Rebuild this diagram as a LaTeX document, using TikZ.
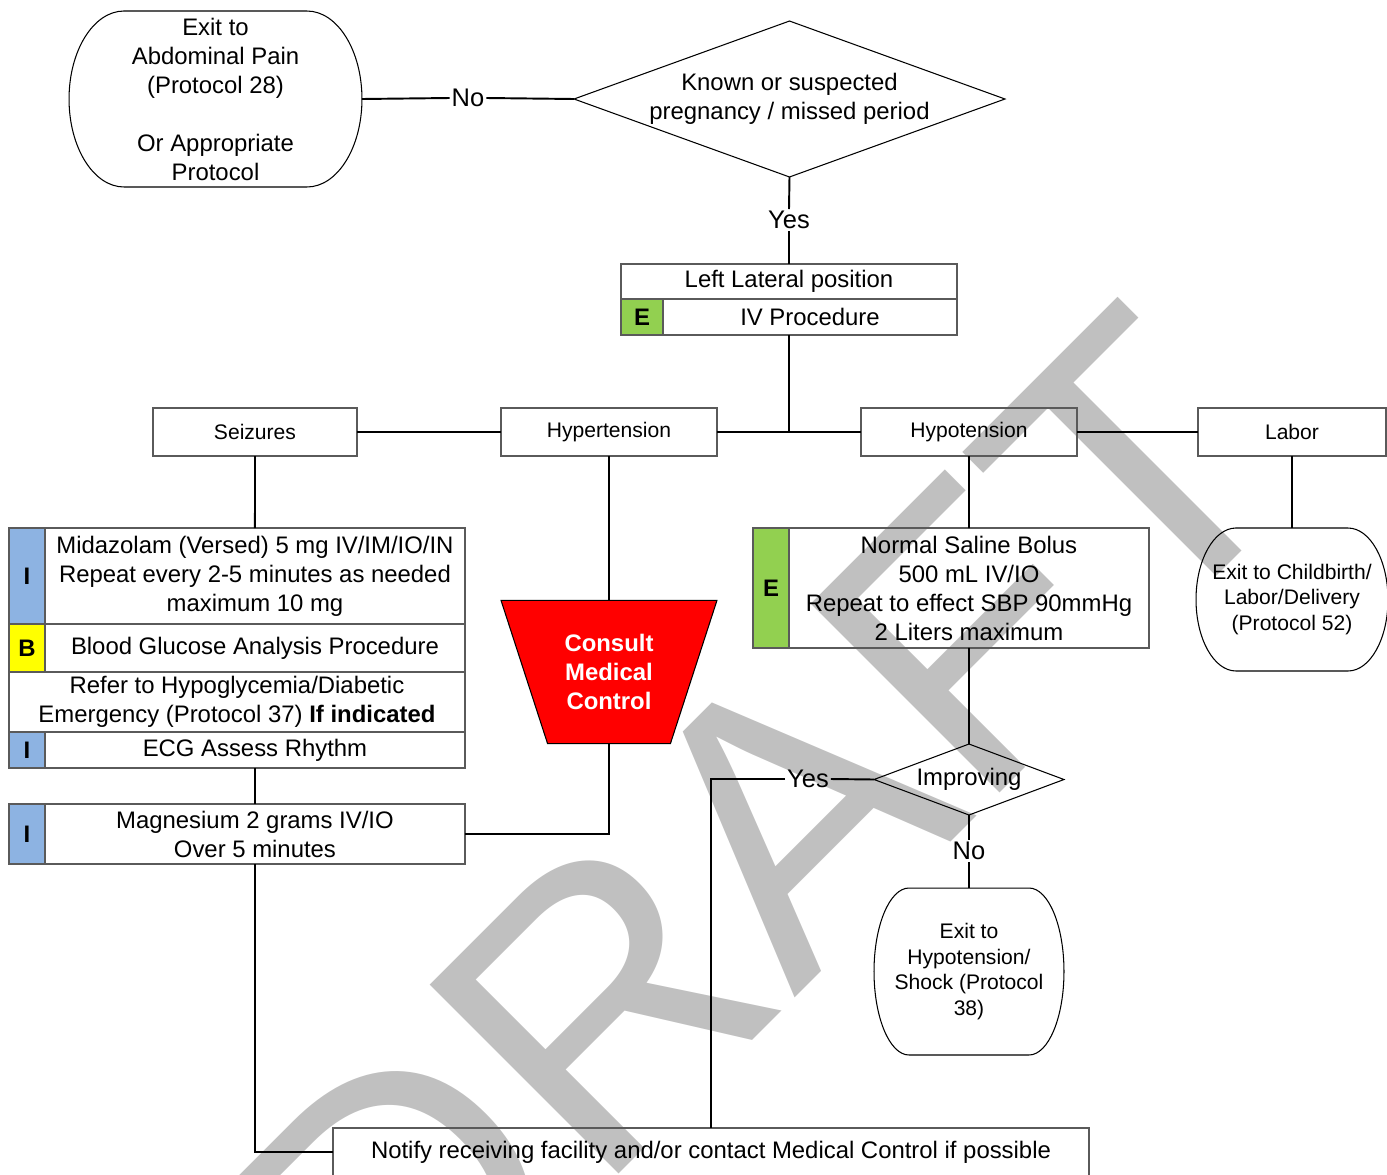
\documentclass[tikz,border=0pt]{standalone}
\usepackage{fontspec}
\setmainfont{Liberation Sans}
\usetikzlibrary{positioning, shapes.geometric}

\definecolor{cellblue}{HTML}{8DB3E2}
\definecolor{cellgreen}{HTML}{92D050}
\definecolor{cellyellow}{HTML}{FFFF00}
\definecolor{draftgray}{HTML}{C0C0C0}
\definecolor{boxline}{HTML}{5A5A5A}

\newcommand{\bigtext}{\fontsize{13.6}{16.5}\selectfont}
\newcommand{\smalltext}{\fontsize{12}{14.5}\selectfont}
\newcommand{\answertext}{\fontsize{14.5}{17}\selectfont}

% rounded exit shapes
\newcommand{\termoutline}[3]{%
  \draw[termline] ([xshift=#2]#1.north west) -- ([xshift=-#2]#1.north east)
    arc[start angle=90, end angle=-90, x radius=#2, y radius=#3]
    -- ([xshift=#2]#1.south west)
    arc[start angle=270, end angle=90, x radius=#2, y radius=#3] -- cycle;}

\begin{document}
\begin{tikzpicture}[
    x=0.02cm, y=-0.02cm,
    box/.style={draw=boxline, line width=0.8pt, inner sep=0pt, outer sep=0pt, align=center, font=\bigtext},
    smallbox/.style={box, font=\smalltext},
    cell/.style={box, fill=#1, font=\bigtext\bfseries, minimum width=0.72cm},
    plain/.style={inner sep=0pt, outer sep=0pt, align=center},
    termline/.style={draw=black, line width=0.6pt},
    decline/.style={draw=black, line width=0.6pt},
    answer/.style={inner sep=1pt, font=\answertext},
    link/.style={draw=black, line width=1.1pt}
]

\useasboundingbox (0,0) rectangle (1387,1174);

% watermark
\node[text=draftgray, rotate=45, font=\fontsize{221}{221}\selectfont] (draft) at (761,843) {DRAFT};

% pregnancy question
\node[plain, font=\bigtext, minimum width=5.86cm, minimum height=3.52cm] (abd) at (215.5,99)
    {Exit to\\Abdominal Pain\\(Protocol 28)\\[16.5pt]Or Appropriate\\Protocol};
\termoutline{abd}{1.1cm}{1.76cm}

\node[plain, font=\bigtext, minimum width=8.62cm, minimum height=3.12cm] (known) at (789.5,99)
    {Known or suspected\\pregnancy / missed period};
\draw[decline] (known.north) -- (known.east) -- (known.south) -- (known.west) -- cycle;

\node[answer] (no1) at (468,98) {No};
\node[answer] (yes1) at (789,220) {Yes};

\node[box, minimum width=6.72cm, minimum height=0.7cm] (lateral) at (789,281.5) {Left Lateral position};
\node[cell=cellgreen, minimum width=0.84cm, minimum height=0.72cm, below right=0pt and 0pt of lateral.south west] (ecell1) {E};
\node[box, minimum width=5.88cm, minimum height=0.72cm, right=0pt of ecell1] (ivproc) {IV Procedure};

% branches
\coordinate (junc) at (789,432);
\node[smallbox, minimum width=4.08cm, minimum height=0.96cm] (seiz) at (255,432) {Seizures};
\node[smallbox, minimum width=4.32cm, minimum height=0.96cm] (hyper) at (609,432) {Hypertension};
\node[smallbox, minimum width=4.32cm, minimum height=0.96cm] (hypo) at (969,432) {Hypotension};
\node[smallbox, minimum width=3.76cm, minimum height=0.96cm] (labor) at (1292,432) {Labor};

% seizures
\node[cell=cellblue, minimum height=1.92cm] (icell1) at (27,576) {I};
\node[box, minimum width=8.4cm, minimum height=1.92cm, right=0pt of icell1] (mida)
    {Midazolam (Versed) 5 mg IV/IM/IO/IN\\Repeat every 2-5 minutes as needed\\maximum 10 mg};
\node[cell=cellyellow, minimum height=0.96cm, below=0pt of icell1] (bcell) {B};
\node[box, minimum width=8.4cm, minimum height=0.96cm, right=0pt of bcell] (gluc) {Blood Glucose Analysis Procedure};
\node[box, minimum width=9.12cm, minimum height=1.2cm, below right=0pt and 0pt of bcell.south west] (refer)
    {Refer to Hypoglycemia/Diabetic\\Emergency (Protocol 37) \textbf{If indicated}};
\node[cell=cellblue, minimum height=0.72cm, below right=0pt and 0pt of refer.south west] (icell2) {I};
\node[box, minimum width=8.4cm, minimum height=0.72cm, right=0pt of icell2] (ecg) {ECG Assess Rhythm};
\node[cell=cellblue, minimum height=1.2cm] (icell3) at (27,834) {I};
\node[box, minimum width=8.4cm, minimum height=1.2cm, right=0pt of icell3] (magnes) {Magnesium 2 grams IV/IO\\Over 5 minutes};

% hypertension
\node[trapezium, trapezium left angle=72, trapezium right angle=72, shape border rotate=180,
      trapezium stretches body, minimum width=4.32cm, inner xsep=0pt, inner ysep=19.3pt,
      fill=red, draw=black, line width=0.6pt, text=white, font=\bigtext\bfseries, align=center] (consult) at (609,672)
    {Consult\\Medical\\Control};

% hypotension
\node[cell=cellgreen, minimum height=2.4cm] (ecell2) at (771,588) {E};
\node[box, minimum width=7.2cm, minimum height=2.4cm, right=0pt of ecell2] (saline)
    {Normal Saline Bolus\\500 mL IV/IO\\Repeat to effect SBP 90mmHg\\2 Liters maximum};

\node[plain, font=\bigtext, minimum width=3.8cm, minimum height=1.42cm] (impr) at (969,779.5) {Improving};
\draw[decline] (impr.north) -- (impr.east) -- (impr.south) -- (impr.west) -- cycle;

\node[answer] (yes2) at (808,779) {Yes};
\node[answer] (no2) at (969,851) {No};

\node[plain, font=\smalltext, minimum width=3.8cm, minimum height=3.34cm] (exhypo) at (969,971.5)
    {Exit to\\Hypotension/\\Shock (Protocol\\38)};
\termoutline{exhypo}{0.7cm}{1.67cm}

% labor
\node[plain, font=\smalltext, minimum width=3.84cm, minimum height=2.86cm] (child) at (1292,599.5)
    {Exit to Childbirth/\\Labor/Delivery\\(Protocol 52)};
\termoutline{child}{0.8cm}{1.43cm}

\node[box, minimum width=15.12cm, minimum height=0.96cm] (notify) at (711,1152)
    {Notify receiving facility and/or contact Medical Control if possible};

% connectors
\draw[link] (abd.east) -- (no1.west);
\draw[link] (no1.east) -- (known.west);
\draw[link] (known.south) -- (yes1.north);
\draw[link] (yes1.south) -- (lateral.north);
\draw[link] (junc |- ivproc.south) -- (junc);
\draw[link] (seiz.east) -- (hyper.west);
\draw[link] (hyper.east) -- (hypo.west);
\draw[link] (hypo.east) -- (labor.west);
\draw[link] (seiz.south) -- (mida.north);
\draw[link] (ecg.south) -- (magnes.north);
\draw[link] (hyper.south) -- (consult.north);
\draw[link] (magnes.east) -| (consult.south);
\draw[link] (magnes.south) |- (notify.west);
\draw[link] (hypo.south) -- (saline.north);
\draw[link] (saline.south) -- (impr.north);
\draw[link] (impr.west) -- (yes2.east);
\draw[link] (yes2.west) -| (notify.north);
\draw[link] (impr.south) -- (no2.north);
\draw[link] (no2.south) -- (exhypo.north);
\draw[link] (labor.south) -- (child.north);

\end{tikzpicture}
\end{document}
